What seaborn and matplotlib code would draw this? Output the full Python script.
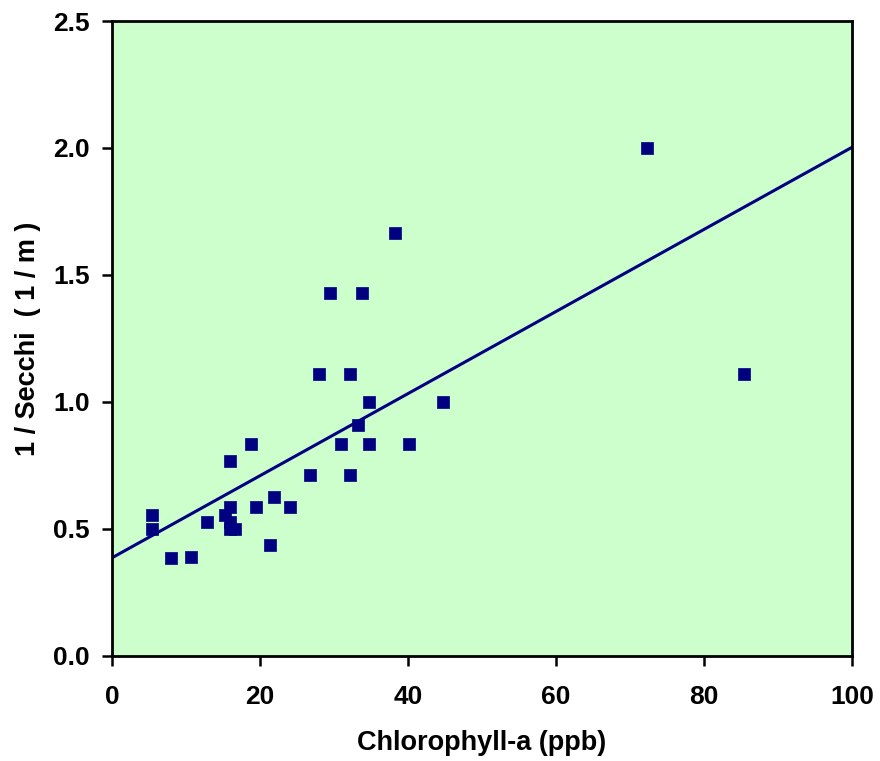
import matplotlib
matplotlib.use("Agg")
import matplotlib.pyplot as plt
import seaborn as sns
import pandas as pd
import numpy as np

chlorophyll = [5.4, 5.4, 8.0, 10.7, 12.8, 15.9, 15.9, 15.3, 16.0, 16.0, 16.6,
               18.8, 19.4, 21.4, 21.9, 24.0, 26.7, 28.0, 29.4, 30.9, 32.1,
               32.1, 33.3, 33.8, 34.8, 34.8, 38.2, 40.1, 44.8, 72.3, 85.4]
inv_secchi = [0.556, 0.5, 0.385, 0.391, 0.526, 0.769, 0.588, 0.556, 0.526, 0.5, 0.5,
              0.833, 0.588, 0.435, 0.625, 0.588, 0.714, 1.111, 1.429, 0.833, 0.714,
              1.111, 0.909, 1.429, 1.0, 0.833, 1.667, 0.833, 1.0, 2.0, 1.111]
x_ticks = [0, 20, 40, 60, 80, 100]
y_ticks = [0.0, 0.5, 1.0, 1.5, 2.0, 2.5]

df = pd.DataFrame({"chl": chlorophyll, "sec": inv_secchi})

sns.set_style("ticks")
plt.rcParams['font.family'] = ['Liberation Sans', 'DejaVu Sans']
plt.rcParams['font.weight'] = 'bold'
plt.rcParams['text.color'] = 'black'
plt.rcParams['axes.labelcolor'] = 'black'

fig = plt.figure(figsize=(8.8, 7.61), dpi=100)
ax = fig.add_axes([0.1273, 0.138, 0.8407, 0.8344])
ax.set_facecolor("#CCFFCC")
ax.set_xlim(0, 100)
ax.set_ylim(0, 2.5)

sns.regplot(data=df, x="chl", y="sec", ax=ax, ci=None, truncate=False,
            marker="s",
            scatter_kws=dict(s=80, color="#000080", edgecolors="#000080",
                             linewidths=0.5, alpha=1, zorder=3),
            line_kws=dict(color="#000080", lw=2.2, zorder=2))

ax.set_xlim(0, 100)
ax.set_ylim(0, 2.5)
ax.set_xticks(x_ticks)
ax.set_yticks(y_ticks)
ax.set_xticklabels([str(t) for t in x_ticks], fontsize=19, fontweight='bold')
ax.set_yticklabels([f"{t:.1f}" for t in y_ticks], fontsize=19, fontweight='bold')
ax.tick_params(axis='x', direction='out', length=7, width=1.8, pad=14, colors='black')
ax.tick_params(axis='y', direction='out', length=7, width=1.8, pad=9, colors='black')
ax.set_xlabel("Chlorophyll-a (ppb)", fontsize=19.5, fontweight='bold', labelpad=15, color='black')
ax.set_ylabel("1 / Secchi  ( 1 / m )", fontsize=19.5, fontweight='bold', labelpad=9, color='black')
for s in ax.spines.values():
    s.set_visible(True)
    s.set_linewidth(2)
    s.set_color('black')

fig.savefig("out.png", dpi=100)
